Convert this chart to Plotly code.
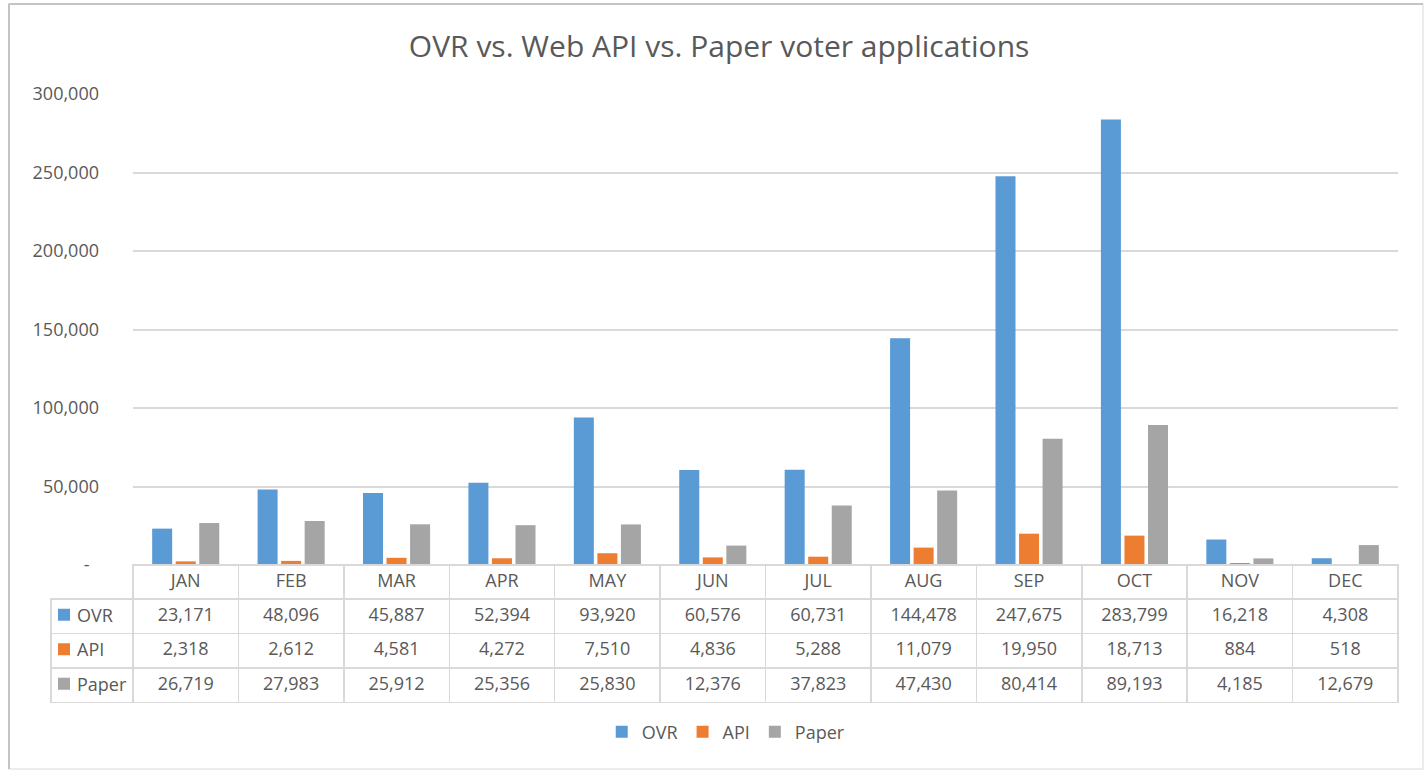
import plotly.graph_objects as go

# Data
months = ['JAN', 'FEB', 'MAR', 'APR', 'MAY', 'JUN', 'JUL', 'AUG', 'SEP', 'OCT', 'NOV', 'DEC']
ovr = [23171, 48096, 45887, 52394, 93920, 60576, 60731, 144478, 247675, 283799, 16218, 4308]
api = [2318, 2612, 4581, 4272, 7510, 4836, 5288, 11079, 19950, 18713, 884, 518]
paper = [26719, 27983, 25912, 25356, 25830, 12376, 37823, 47430, 80414, 89193, 4185, 12679]
series_names = ['OVR', 'API', 'Paper']
y_ticks = [0, 50000, 100000, 150000, 200000, 250000, 300000]

COLORS = ['#5b9bd5', '#ed7d31', '#a5a5a5']
TEXT = '#595959'
GRID = '#d9d9d9'
FONT = 'Open Sans'

W, H = 1424, 770
ROW_H = 34.5
TABLE_TOP = 599      # first data row (pixels from top)
KEY_X = 64           # centre of the small colour keys in the table
LABEL_X = 75         # left edge of the row labels


def px_x(x):
    return x / W


def px_y(y):
    return 1 - y / H


def fmt(v):
    return '-' if v == 0 else f'{v:,}'


def tick_fmt(v):
    # accounting style: the dash for zero sits a little left of the numbers
    return '-\u00a0\u00a0' if v == 0 else f'{v:,}'


fig = go.Figure()

for name, vals, color in zip(series_names, [ovr, api, paper], COLORS):
    fig.add_trace(go.Bar(
        x=months,
        y=vals,
        name=name,
        marker=dict(color=color, line=dict(width=0)),
        xaxis='x',
        yaxis='y'
    ))

table_font = dict(family=FONT, size=18, color=TEXT)

# Month header row of the data table
fig.add_trace(go.Table(
    domain=dict(x=[px_x(133), px_x(1398)], y=[px_y(600), px_y(565)]),
    columnwidth=[1] * len(months),
    header=dict(
        values=months,
        height=ROW_H,
        align='center',
        fill=dict(color='white'),
        line=dict(color=GRID, width=1.5),
        font=table_font
    ),
    cells=dict(values=[])
))

# Data rows; the first column holds the row labels, written as annotations below
rows = [[fmt(v) for v in s] for s in (ovr, api, paper)]
first_row = [''] + rows[0]
other_rows = [['', '']] + [[rows[1][i], rows[2][i]] for i in range(len(months))]
fig.add_trace(go.Table(
    domain=dict(x=[px_x(51), px_x(1398)], y=[px_y(TABLE_TOP + 3 * ROW_H + 1), px_y(TABLE_TOP)]),
    columnwidth=[82] + [105.4] * len(months),
    header=dict(
        values=first_row,
        height=ROW_H,
        align='center',
        fill=dict(color='white'),
        line=dict(color=GRID, width=1.5),
        font=table_font
    ),
    cells=dict(
        values=other_rows,
        height=ROW_H,
        align='center',
        fill=dict(color='white'),
        line=dict(color=GRID, width=1.5),
        font=table_font
    )
))

annotations = []
shapes = [
    dict(type='rect', xref='paper', yref='paper',
         x0=px_x(9), x1=px_x(1423), y0=px_y(769), y1=px_y(4),
         line=dict(color='#e6e6e6', width=1.5)),
    dict(type='line', xref='paper', yref='paper',
         x0=px_x(9), x1=px_x(1423), y0=px_y(4), y1=px_y(4),
         line=dict(color='#c4c4c4', width=2)),
    dict(type='line', xref='paper', yref='paper',
         x0=px_x(9), x1=px_x(9), y0=px_y(769), y1=px_y(4),
         line=dict(color='#c4c4c4', width=2)),
]
for i, (name, color) in enumerate(zip(series_names, COLORS)):
    yc = TABLE_TOP + ROW_H * (i + 0.5) - 1.5
    annotations.append(dict(
        text=name, xref='paper', yref='paper',
        x=px_x(LABEL_X), y=px_y(yc), xanchor='left', yanchor='middle',
        showarrow=False, font=table_font
    ))
    shapes.append(dict(
        type='rect', xref='paper', yref='paper',
        x0=px_x(KEY_X - 6), x1=px_x(KEY_X + 6),
        y0=px_y(yc + 6), y1=px_y(yc - 6),
        fillcolor=color, line=dict(width=0)
    ))

fig.update_layout(
    width=W,
    height=H,
    margin=dict(l=0, r=0, t=0, b=0, pad=0, autoexpand=False),
    paper_bgcolor='white',
    plot_bgcolor='white',
    font=dict(family=FONT, color=TEXT),
    title=dict(
        text='OVR vs. Web API vs. Paper voter applications',
        x=0.505,
        xanchor='center',
        y=px_y(46),
        yanchor='middle',
        font=dict(family=FONT, size=30, color=TEXT)
    ),
    barmode='group',
    bargap=0.33,
    bargroupgap=0.15,
    xaxis=dict(
        domain=[px_x(133), px_x(1398)],
        showticklabels=False,
        showgrid=False,
        zeroline=False,
        showline=False,
        ticks=''
    ),
    yaxis=dict(
        domain=[px_y(565), px_y(94)],
        range=[0, 300000],
        tickvals=y_ticks,
        ticktext=[tick_fmt(v) for v in y_ticks],
        tickfont=dict(family=FONT, size=18, color=TEXT),
        gridcolor=GRID,
        gridwidth=1.5,
        zeroline=False,
        showline=False,
        ticks='',
        ticklabelstandoff=33,
        automargin=False
    ),
    legend=dict(
        orientation='h',
        x=0.51,
        xanchor='center',
        y=px_y(732),
        yanchor='middle',
        font=dict(family=FONT, size=18, color=TEXT),
        traceorder='normal',
        itemwidth=30
    ),
    annotations=annotations,
    shapes=shapes
)

fig.write_html(
    'out.html',
    config={'displayModeBar': False},
    post_script="document.body.style.margin='0px';"
)
